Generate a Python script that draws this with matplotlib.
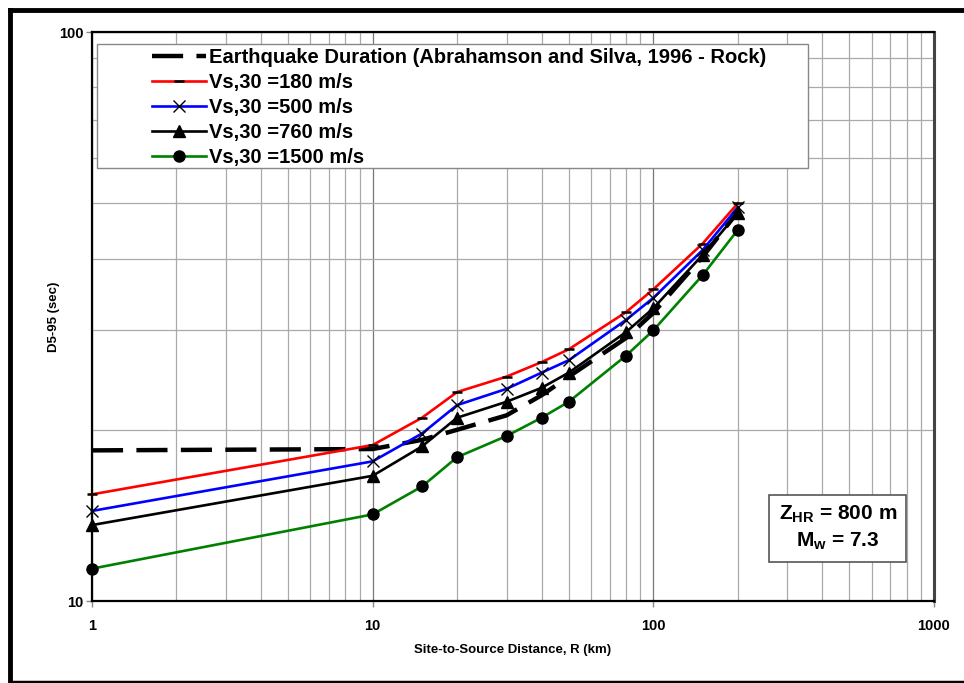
import matplotlib
matplotlib.use("Agg")
import matplotlib.pyplot as plt
from matplotlib.lines import Line2D
from matplotlib.patches import Rectangle
from matplotlib.ticker import FixedLocator, NullFormatter, LogLocator

plt.rcParams['font.family'] = ['Liberation Sans', 'DejaVu Sans']
plt.rcParams['font.weight'] = 'bold'
plt.rcParams['mathtext.fontset'] = 'custom'
plt.rcParams['mathtext.rm'] = 'Liberation Sans:bold'
plt.rcParams['mathtext.bf'] = 'Liberation Sans:bold'
plt.rcParams['mathtext.it'] = 'Liberation Sans:bold'

# distances (km)
dist = [1, 10, 15, 20, 30, 40, 50, 80, 100, 150, 200]

# D5-95 (sec)
dur_as96 = [18.4, 18.5, 19.2, 20.0, 21.2, 23.0, 24.8, 29.0, 32.1, 40.3, 48.3]
dur_180 = [15.4, 18.8, 21.0, 23.3, 24.8, 26.3, 27.7, 32.2, 35.3, 42.5, 50.0]
dur_500 = [14.4, 17.6, 19.7, 22.1, 23.6, 25.2, 26.5, 31.2, 34.1, 41.4, 49.2]
dur_760 = [13.6, 16.6, 18.7, 21.0, 22.4, 23.7, 25.2, 29.7, 32.7, 40.6, 48.1]
dur_1500 = [11.4, 14.2, 15.9, 17.9, 19.5, 21.0, 22.4, 27.0, 29.9, 37.4, 44.9]

labels = ['Earthquake Duration (Abrahamson and Silva, 1996 - Rock)',
          'Vs,30 =180 m/s', 'Vs,30 =500 m/s', 'Vs,30 =760 m/s', 'Vs,30 =1500 m/s']

fig = plt.figure(figsize=(9.64, 6.83), dpi=100)
ax = fig.add_axes([0.0954, 0.12, 0.8734, 0.833])

ax.plot(dist, dur_as96, color='black', lw=3.2, dashes=(7, 3), label=labels[0], zorder=3)
ax.plot(dist, dur_180, color='red', lw=1.9, marker='_', ms=7, mew=1.8,
        mec='black', label=labels[1], zorder=4, clip_on=False)
ax.plot(dist, dur_500, color='blue', lw=1.9, marker='x', ms=9, mew=1.0,
        mec='black', label=labels[2], zorder=4, clip_on=False)
ax.plot(dist, dur_760, color='black', lw=1.9, marker='^', ms=8,
        mfc='black', mec='black', label=labels[3], zorder=4, clip_on=False)
ax.plot(dist, dur_1500, color='green', lw=1.9, marker='o', ms=8,
        mfc='black', mec='black', label=labels[4], zorder=4, clip_on=False)

ax.set_xscale('log')
ax.set_yscale('log')
ax.set_xlim(1, 1000)
ax.set_ylim(10, 100)

ax.xaxis.set_major_locator(FixedLocator([1, 10, 100, 1000]))
ax.yaxis.set_major_locator(FixedLocator([10, 100]))
ax.set_xticklabels(['1', '10', '100', '1000'])
ax.set_yticklabels(['10', '100'])
ax.xaxis.set_minor_locator(LogLocator(base=10, subs=range(2, 10)))
ax.yaxis.set_minor_locator(LogLocator(base=10, subs=range(2, 10)))
ax.xaxis.set_minor_formatter(NullFormatter())
ax.yaxis.set_minor_formatter(NullFormatter())
ax.tick_params(which='major', length=4, width=1, color='#888888', labelsize=10.5)
ax.tick_params(axis='x', which='major', pad=9)
ax.tick_params(axis='y', which='major', pad=2)
ax.tick_params(which='minor', length=0)

ax.grid(True, which='major', color='#777777', lw=0.9)
ax.grid(True, which='minor', color='#aaaaaa', lw=0.9)
ax.set_axisbelow(True)

for s in ['left', 'top', 'bottom']:
    ax.spines[s].set_linewidth(1.6)
    ax.spines[s].set_color('black')
ax.spines['right'].set_linewidth(2.2)
ax.spines['right'].set_color('#444444')

ax.set_xlabel('Site-to-Source Distance, R (km)', fontsize=9.5, fontweight='bold', labelpad=8)
ax.set_ylabel('D5-95 (sec)', fontsize=9.5, fontweight='bold')
ax.yaxis.set_label_coords(-0.038, 0.5)

# legend box drawn separately (Excel-like wide padding)
ax.add_patch(Rectangle((0.006, 0.761), 0.844, 0.218, transform=ax.transAxes,
                       fc='white', ec='#888888', lw=1.0, zorder=5))
leg = ax.legend(loc='upper left', bbox_to_anchor=(0.0713, 0.972), fontsize=14.5,
                frameon=False, handlelength=2.7, handletextpad=0.15,
                labelspacing=0.3, borderpad=0, borderaxespad=0)
leg.set_zorder(6)

ax.text(0.886, 0.128, 'Z$_{\\mathrm{HR}}$ = 800 m\nM$_{\\mathrm{w}}$ = 7.3',
        transform=ax.transAxes, ha='center', va='center', fontsize=15,
        fontweight='bold', linespacing=1.35, zorder=6,
        bbox=dict(boxstyle='square,pad=0.45', fc='white', ec='#555555', lw=1.2))

# outer frame
fig.add_artist(Line2D([10 / 964, 10 / 964], [0, 1 - 10 / 683], transform=fig.transFigure,
                      color='black', lw=3.5))
fig.add_artist(Line2D([10 / 964, 1], [1 - 10 / 683, 1 - 10 / 683], transform=fig.transFigure,
                      color='black', lw=3.5))
fig.add_artist(Line2D([10 / 964, 1], [1.5 / 683, 1.5 / 683], transform=fig.transFigure,
                      color='black', lw=2.5))

fig.savefig('out.png', dpi=100)
